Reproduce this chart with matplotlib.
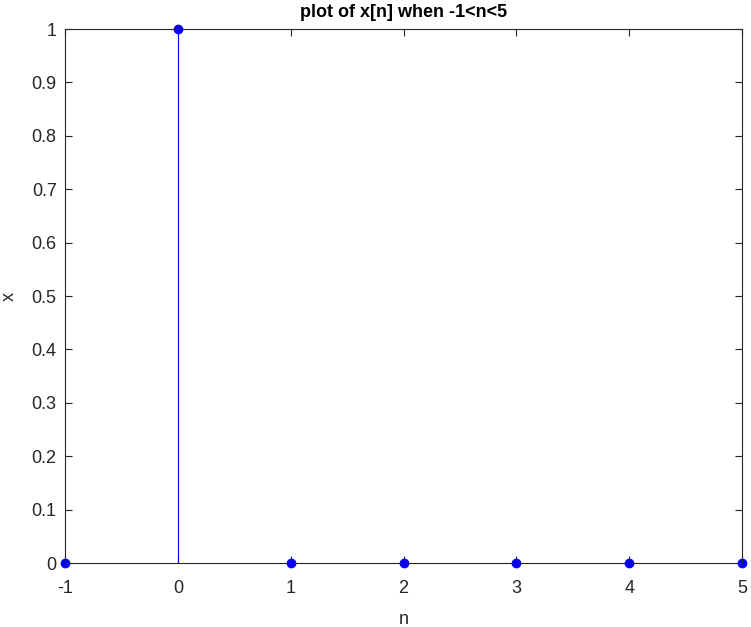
import matplotlib
matplotlib.use("Agg")
import matplotlib.pyplot as plt

# 데이터 - 단위 임펄스
n = [-1, 0, 1, 2, 3, 4, 5]
x = [0, 1, 0, 0, 0, 0, 0]
x_ticks = [-1, 0, 1, 2, 3, 4, 5]
y_ticks = [0, 0.1, 0.2, 0.3, 0.4, 0.5, 0.6, 0.7, 0.8, 0.9, 1]
y_tick_labels = ["0", "0.1", "0.2", "0.3", "0.4", "0.5", "0.6", "0.7", "0.8", "0.9", "1"]

plt.rcParams["font.family"] = ["Liberation Sans", "DejaVu Sans"]

fig = plt.figure(figsize=(7.51, 6.27), dpi=100)
ax = fig.add_axes([0.0866, 0.102, 0.9015, 0.8517])

markers, stems, base = ax.stem(n, x, linefmt="b-", markerfmt="bo", basefmt="k-")
stems.set_linewidth(0.8)
markers.set_markersize(6)
markers.set_clip_on(False)
base.set_visible(False)

ax.set_xlim(-1, 5)
ax.set_ylim(0, 1)
ax.set_xticks(x_ticks)
ax.set_xticklabels([str(v) for v in x_ticks])
ax.set_yticks(y_ticks)
ax.set_yticklabels(y_tick_labels)

dark = "#262626"
ax.tick_params(direction="in", top=True, right=True, length=5, width=0.8,
               labelsize=13, colors=dark, labelcolor=dark)
ax.tick_params(axis="x", pad=12)
ax.tick_params(axis="y", pad=6)
for s in ax.spines.values():
    s.set_color(dark)
    s.set_linewidth(0.8)

ax.set_xlabel("n", fontsize=13, color=dark, labelpad=10)
ax.set_ylabel("x", fontsize=13, color=dark, labelpad=10)
ax.set_title("plot of x[n] when -1<n<5", fontsize=13, fontweight="bold", pad=9)

fig.savefig("out.png", dpi=100)
